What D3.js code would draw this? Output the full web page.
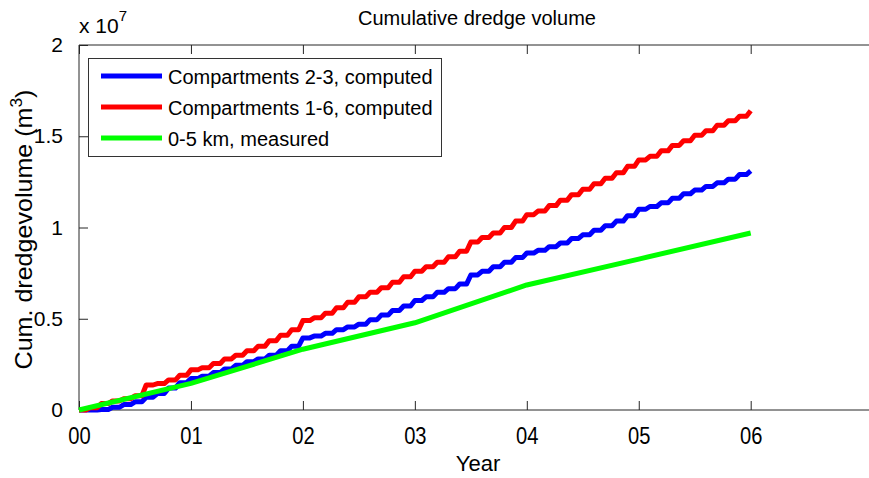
<!DOCTYPE html>
<html><head><meta charset="utf-8">
<script src="https://cdn.jsdelivr.net/npm/d3@7"></script>
<style>
body{margin:0;background:#fff;}
svg{display:block;font-family:"Liberation Sans",Arial,sans-serif;}
</style></head>
<body><svg id="c" width="869" height="478"></svg>
<script>
// ---- data (values in units of 1e7 m^3) ----
const stepYears = [0,0.1,0.2,0.3,0.4,0.5,0.6,0.7,0.8,0.9,1.0,1.1,1.2,1.3,1.4,1.5,1.6,1.7,1.8,1.9,2.0,2.1,2.2,2.3,2.4,2.5,2.6,2.7,2.8,2.9,3.0,3.1,3.2,3.3,3.4,3.5,3.6,3.7,3.8,3.9,4.0,4.1,4.2,4.3,4.4,4.5,4.6,4.7,4.8,4.9,5.0,5.1,5.2,5.3,5.4,5.5,5.6,5.7,5.8,5.9,6.0];
const comp23 = [0,0,0.003,0.015,0.03,0.045,0.07,0.09,0.12,0.15,0.172,0.185,0.205,0.225,0.245,0.265,0.28,0.30,0.325,0.35,0.395,0.405,0.42,0.44,0.455,0.47,0.495,0.52,0.545,0.57,0.60,0.62,0.645,0.665,0.69,0.74,0.76,0.785,0.81,0.835,0.86,0.875,0.895,0.915,0.94,0.96,0.985,1.01,1.035,1.065,1.10,1.115,1.135,1.16,1.185,1.205,1.225,1.245,1.265,1.29,1.31];
const comp16 = [0,0.012,0.035,0.05,0.062,0.078,0.137,0.145,0.165,0.19,0.22,0.232,0.255,0.28,0.30,0.325,0.35,0.38,0.41,0.44,0.49,0.505,0.53,0.56,0.59,0.62,0.645,0.67,0.70,0.73,0.76,0.785,0.81,0.84,0.87,0.92,0.945,0.97,1.00,1.035,1.07,1.09,1.12,1.15,1.18,1.21,1.24,1.27,1.30,1.335,1.37,1.39,1.42,1.45,1.475,1.505,1.53,1.56,1.585,1.61,1.64];
const measuredYears = [0,1,2,3,4,5,6];
const measured = [0,0.146,0.333,0.478,0.685,0.827,0.97];
const xTicks = [0,1,2,3,4,5,6];
const xTickLabels = ["00","01","02","03","04","05","06"];
const yTicks = [0,0.5,1,1.5,2];
const yTickLabels = ["0","0.5","1","1.5","2"];
const seriesNames = ["Compartments 2-3, computed","Compartments 1-6, computed","0-5 km, measured"];
const seriesColors = ["#0000ff","#ff0000","#00ff00"];

// ---- layout ----
const L = 79, T = 45, B = 410;
const x = d3.scaleLinear().domain([0,7.2]).range([L, L + 7.2*111.95]);
const y = d3.scaleLinear().domain([0,2]).range([B, T]);
const svg = d3.select("#c");

// sloped staircase curve
function SlopedStep(ctx){ this._context = ctx; }
SlopedStep.prototype = {
  areaStart(){}, areaEnd(){},
  lineStart(){ this._p = 0; },
  lineEnd(){},
  point(px, py){
    px = +px; py = +py;
    if (!this._p){ this._p = 1; this._context.moveTo(px, py); }
    else {
      const xm = this._x + (px - this._x) * 0.62;
      this._context.lineTo(xm, this._y);
      this._context.lineTo(px, py);
    }
    this._x = px; this._y = py;
  }
};
const curveSlopedStep = ctx => new SlopedStep(ctx);

// axes frame
const axisColor = "#262626";
svg.append("line").attr("x1",L).attr("x2",900).attr("y1",T).attr("y2",T).attr("stroke",axisColor);
svg.append("line").attr("x1",L).attr("x2",900).attr("y1",B).attr("y2",B).attr("stroke",axisColor);
svg.append("line").attr("x1",L).attr("x2",L).attr("y1",T).attr("y2",B).attr("stroke",axisColor);

// x axis (bottom, ticks inward)
const xb = svg.append("g").attr("transform",`translate(0,${B})`)
  .call(d3.axisBottom(x).tickValues(xTicks).tickSizeInner(-9).tickSizeOuter(0).tickPadding(17)
        .tickFormat((d,i)=>xTickLabels[i]));
xb.select(".domain").remove();
xb.selectAll("line").attr("stroke",axisColor);
xb.selectAll("text").attr("font-size",24).attr("fill","#000").attr("transform","scale(0.84,1)");
// x axis top ticks
const xt = svg.append("g").attr("transform",`translate(0,${T})`)
  .call(d3.axisTop(x).tickValues(xTicks).tickSizeInner(-9).tickSizeOuter(0).tickFormat(""));
xt.select(".domain").remove();
xt.selectAll("line").attr("stroke",axisColor);

// y axis
const ya = svg.append("g").attr("transform",`translate(${L},0)`)
  .call(d3.axisLeft(y).tickValues(yTicks).tickSizeInner(-9).tickSizeOuter(0).tickPadding(16)
        .tickFormat((d,i)=>yTickLabels[i]));
ya.select(".domain").remove();
ya.selectAll("line").attr("stroke",axisColor);
ya.selectAll("text").attr("font-size",21).attr("fill","#000");

// exponent
const ex = svg.append("text").attr("x",L).attr("y",33).attr("font-size",21).attr("fill","#000");
ex.append("tspan").text("x 10");
ex.append("tspan").attr("dy",-12).attr("font-size",15).text("7");

// title
svg.append("text").attr("x",477).attr("y",25).attr("text-anchor","middle").attr("font-size",20).attr("fill","#000")
  .text("Cumulative dredge volume");
// x label
svg.append("text").attr("x",478).attr("y",471).attr("text-anchor","middle").attr("font-size",22).attr("fill","#000")
  .text("Year");
// y label
const yl = svg.append("text").attr("transform",`translate(32,${(T+B)/2 + 2}) rotate(-90) scale(1.09,1)`).attr("text-anchor","middle")
  .attr("font-size",23).attr("fill","#000");
yl.append("tspan").text("Cum. dredgevolume (m");
yl.append("tspan").attr("dy",-10).attr("font-size",16).text("3");
yl.append("tspan").attr("dy",10).text(")");

// series
const lineStep = d3.line().x(d=>x(d[0])).y(d=>y(d[1])).curve(curveSlopedStep);
const lineStraight = d3.line().x(d=>x(d[0])).y(d=>y(d[1]));
const plot = svg.append("g");
plot.append("path").datum(stepYears.map((t,i)=>[t,comp23[i]])).attr("d",lineStep)
  .attr("fill","none").attr("stroke",seriesColors[0]).attr("stroke-width",5).attr("stroke-linejoin","round");
plot.append("path").datum(stepYears.map((t,i)=>[t,comp16[i]])).attr("d",lineStep)
  .attr("fill","none").attr("stroke",seriesColors[1]).attr("stroke-width",5).attr("stroke-linejoin","round");
plot.append("path").datum(measuredYears.map((t,i)=>[t,measured[i]])).attr("d",lineStraight)
  .attr("fill","none").attr("stroke",seriesColors[2]).attr("stroke-width",5).attr("stroke-linejoin","round");

// legend
const lg = svg.append("g");
lg.append("rect").attr("x",88.5).attr("y",58.5).attr("width",353).attr("height",98)
  .attr("fill","#fff").attr("stroke","#333");
seriesNames.forEach((n,i)=>{
  const cy = 76 + i*31;
  lg.append("line").attr("x1",101).attr("x2",162).attr("y1",cy).attr("y2",cy)
    .attr("stroke",seriesColors[i]).attr("stroke-width",5);
  lg.append("text").attr("x",168).attr("y",cy+7.5).attr("font-size",20).attr("fill","#000").text(n);
});
</script></body></html>
